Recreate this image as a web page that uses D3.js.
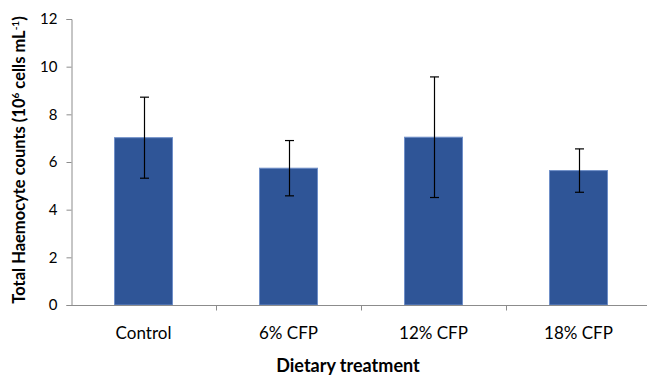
<!DOCTYPE html>
<html>
<head>
<meta charset="utf-8">
<script src="https://cdn.jsdelivr.net/npm/d3@7"></script>
<style>
  html, body { margin: 0; padding: 0; background: #fff; }
  svg text { font-family: Lato, "Open Sans", "Liberation Sans", sans-serif; fill: #000; }
</style>
</head>
<body>
<svg id="chart" width="647" height="376"></svg>
<script>
// Total haemocyte counts per dietary treatment (mean ± SD)
const categories = ["Control", "6% CFP", "12% CFP", "18% CFP"];
const means = [7.02, 5.74, 7.04, 5.64];
const errors = [1.70, 1.16, 2.53, 0.91];
const yTicks = [0, 2, 4, 6, 8, 10, 12];

const margin = { left: 71, right: -4, top: 19, bottom: 71 };
const W = 647, H = 376;
const svg = d3.select("#chart");

const x = d3.scaleBand()
  .domain(categories)
  .range([margin.left, W - margin.right])
  .paddingInner(0.6)
  .paddingOuter(0.3);

const y = d3.scaleLinear()
  .domain([0, 12])
  .range([H - margin.bottom, margin.top]);

const axisColor = "#8c8c8c";

// Bars
svg.append("g").selectAll("rect")
  .data(categories)
  .join("rect")
  .attr("x", d => x(d))
  .attr("width", x.bandwidth())
  .attr("y", (d, i) => y(means[i]))
  .attr("height", (d, i) => y(0) - y(means[i]))
  .attr("fill", "#2f5597")
  .attr("stroke", "#6f8fc8")
  .attr("stroke-width", 1);

// Error bars
const eb = svg.append("g").attr("stroke", "#000").attr("stroke-width", 1.2);
categories.forEach((c, i) => {
  const cx = Math.round(x(c) + x.bandwidth() / 2) + 0.5;
  const top = y(means[i] + errors[i]);
  const bot = y(means[i] - errors[i]);
  eb.append("line").attr("x1", cx).attr("x2", cx).attr("y1", top).attr("y2", bot);
  eb.append("line").attr("x1", cx - 4.5).attr("x2", cx + 4.5).attr("y1", top).attr("y2", top);
  eb.append("line").attr("x1", cx - 4.5).attr("x2", cx + 4.5).attr("y1", bot).attr("y2", bot);
});

// Y axis
const yAxis = svg.append("g")
  .attr("transform", `translate(${margin.left + 0.5},0)`)
  .call(d3.axisLeft(y).tickValues(yTicks).tickSize(5).tickPadding(9).tickFormat(d3.format("d")));
yAxis.select(".domain").attr("stroke", axisColor);
yAxis.selectAll(".tick line").attr("stroke", axisColor);
yAxis.selectAll(".tick text").style("font-size", "15px");

// X axis with ticks on category boundaries
const xBase = Math.round(y(0)) + 0.5;
const xg = svg.append("g");
xg.append("line")
  .attr("x1", margin.left).attr("x2", W)
  .attr("y1", xBase).attr("y2", xBase)
  .attr("stroke", axisColor);
const step = x.step();
const bandStart = x(categories[0]) - (step - x.bandwidth()) / 2;
categories.forEach((c, i) => {
  const bx = Math.round(bandStart + step * (i + 1)) + 0.5;
  xg.append("line")
    .attr("x1", bx).attr("x2", bx)
    .attr("y1", xBase).attr("y2", xBase + 5)
    .attr("stroke", axisColor);
});
xg.selectAll("text.cat")
  .data(categories)
  .join("text")
  .attr("class", "cat")
  .attr("x", d => x(d) + x.bandwidth() / 2)
  .attr("y", 339)
  .attr("text-anchor", "middle")
  .style("font-size", "17px")
  .text(d => d);

// Axis titles
svg.append("text")
  .attr("x", 348)
  .attr("y", 372)
  .attr("text-anchor", "middle")
  .style("font-size", "18px")
  .style("font-weight", "bold")
  .text("Dietary treatment");

const yt = svg.append("text")
  .attr("transform", `translate(25,160) rotate(-90)`)
  .attr("text-anchor", "middle")
  .style("font-size", "16.5px")
  .style("font-weight", "bold");
yt.append("tspan").text("Total Haemocyte counts (10");
yt.append("tspan").attr("dy", -6).style("font-size", "10px").text("6");
yt.append("tspan").attr("dy", 6).text(" cells mL");
yt.append("tspan").attr("dy", -6).style("font-size", "10px").text("-1");
yt.append("tspan").attr("dy", 6).text(")");
</script>
</body>
</html>
